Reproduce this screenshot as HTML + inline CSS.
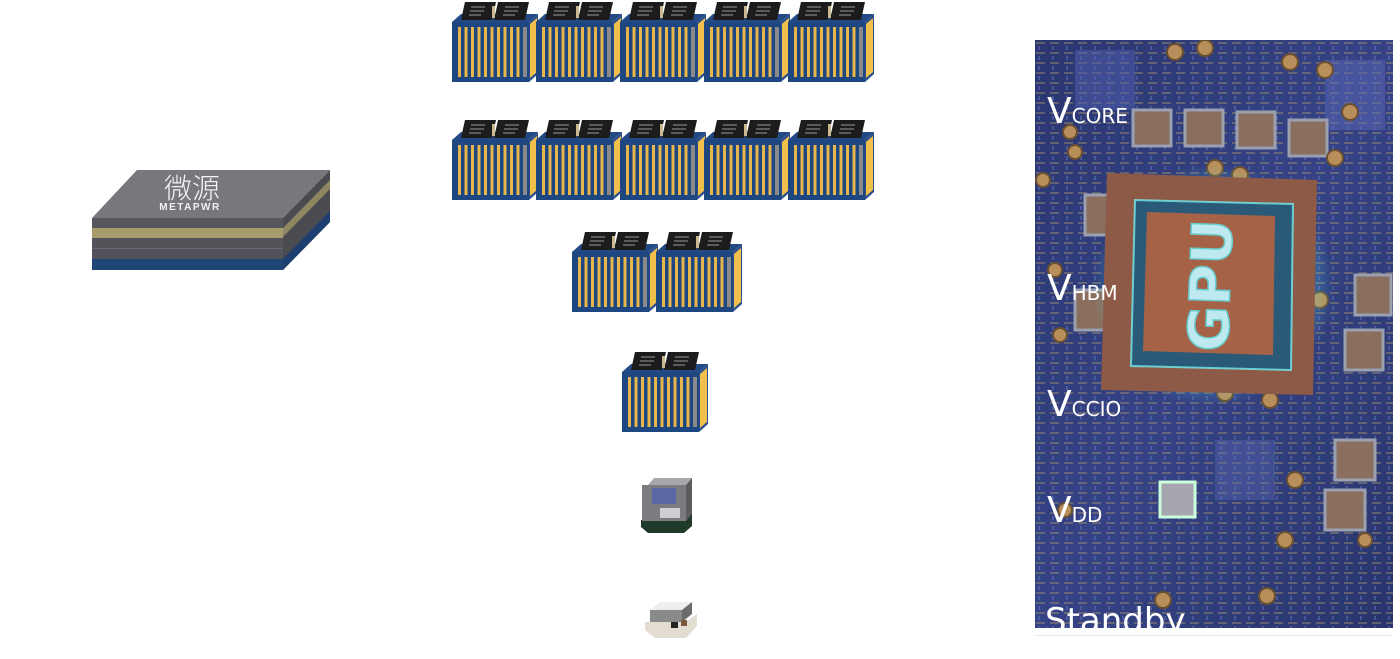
<!DOCTYPE html>
<html><head><meta charset="utf-8"><style>
html,body{margin:0;padding:0;background:#fff;}
body{width:1400px;height:659px;overflow:hidden;position:relative;}
svg{position:absolute;left:0;top:0;}
</style></head><body>
<svg width="1400" height="659" viewBox="0 0 1400 659" xmlns="http://www.w3.org/2000/svg">
<defs>
  <g id="mod">
    <polygon points="0,22 77,22 86,14 9,14" fill="#244a86"/>
    <polygon points="9,20 40,20 44,2 13,2" fill="#1c1c1e"/>
    <polygon points="42,20 73,20 77,2 46,2" fill="#1c1c1e"/>
    <g stroke="#9a9a9a" stroke-width="1">
      <line x1="19" y1="7" x2="33" y2="7"/><line x1="18" y1="11" x2="32" y2="11"/><line x1="17" y1="15" x2="29" y2="15"/>
      <line x1="53" y1="7" x2="67" y2="7"/><line x1="52" y1="11" x2="66" y2="11"/><line x1="51" y1="15" x2="63" y2="15"/>
    </g>
    <rect x="40" y="6" width="3" height="12" fill="#c8b890"/>
    <rect x="0" y="22" width="77" height="60" fill="#1e4680"/>
    <g fill="#e6b64a">
      <rect x="6" y="27" width="3" height="50"/><rect x="12.5" y="27" width="3" height="50"/>
      <rect x="19" y="27" width="3" height="50"/><rect x="25.5" y="27" width="3" height="50"/>
      <rect x="32" y="27" width="3" height="50"/><rect x="38.5" y="27" width="3" height="50"/>
      <rect x="45" y="27" width="3" height="50"/><rect x="51.5" y="27" width="3" height="50"/>
      <rect x="58" y="27" width="3" height="50"/><rect x="64.5" y="27" width="3" height="50"/>
    </g>
    <rect x="71" y="27" width="4" height="50" fill="#8a8a8a"/>
    <polygon points="77,22 86,14 86,74 77,82" fill="#2a4f8a"/>
    <polygon points="78,24 85,18 85,72 78,78" fill="#f0bf4c"/>
  </g>
</defs>

<polygon points="137,170 330,170 283,218 92,218" fill="#77787c"/>
<polygon points="283,218 330,170 330,222 283,270" fill="#4a4b50"/>
<polygon points="283,228 330,180 330,189 283,237" fill="#8f8560"/>
<polygon points="283,259 330,211 330,222 283,270" fill="#1d3f70"/>
<rect x="92" y="218" width="191" height="10" fill="#56575c"/>
<rect x="92" y="228" width="191" height="10" fill="#a89c6c"/>
<rect x="92" y="238" width="191" height="10" fill="#53545a"/>
<rect x="92" y="248" width="191" height="1" fill="#6a6b70"/>
<rect x="92" y="249" width="191" height="10" fill="#52535a"/>
<rect x="92" y="259" width="191" height="11" fill="#1f4677"/>
<text x="192" y="198" font-family="'Liberation Sans','Noto Sans CJK SC',sans-serif" font-size="28" fill="#f4f4f4" text-anchor="middle" font-weight="300">微源</text>
<text x="190" y="210" font-family="'Liberation Sans',sans-serif" font-size="10" font-weight="bold" fill="#f0f0f0" text-anchor="middle" letter-spacing="1.5">METAPWR</text>

<use href="#mod" x="452" y="0"/><use href="#mod" x="536" y="0"/><use href="#mod" x="620" y="0"/><use href="#mod" x="704" y="0"/><use href="#mod" x="788" y="0"/>
<use href="#mod" x="452" y="118"/><use href="#mod" x="536" y="118"/><use href="#mod" x="620" y="118"/><use href="#mod" x="704" y="118"/><use href="#mod" x="788" y="118"/>
<use href="#mod" x="572" y="230"/><use href="#mod" x="656" y="230"/>
<use href="#mod" x="622" y="350"/>

<!-- inductor -->
<polygon points="641,520 684,520 692,512 692,526 684,533 648,533 641,527" fill="#1f3a28"/>
<polygon points="648,485 686,485 692,478 654,478" fill="#a8a8aa"/>
<rect x="642" y="485" width="44" height="36" fill="#7c7c80"/>
<polygon points="686,485 692,478 692,514 686,521" fill="#5c5c60"/>
<rect x="652" y="488" width="24" height="16" fill="#5566aa" opacity=".85"/>
<rect x="660" y="508" width="20" height="10" fill="#cfcfd2"/>

<!-- small module -->
<polygon points="645,622 686,622 697,614 697,626 686,638 655,638 645,630" fill="#e2ddd0"/>
<polygon points="650,610 682,610 692,602 660,602" fill="#eeeeee"/>
<rect x="650" y="610" width="32" height="12" fill="#8a8a8a"/>
<polygon points="682,610 692,602 692,614 682,622" fill="#6c6c6c"/>
<rect x="671" y="622" width="7" height="6" fill="#222"/><rect x="681" y="620" width="6" height="6" fill="#7a5a3a"/>

<svg x="1035" y="40" width="358" height="588" viewBox="0 0 358 588">
  <defs>
    <linearGradient id="bg" x1="0" y1="0" x2="1" y2="1">
      <stop offset="0" stop-color="#2a3670"/><stop offset=".5" stop-color="#354386"/><stop offset="1" stop-color="#28356c"/>
    </linearGradient>
    <pattern id="tr" width="14" height="10" patternUnits="userSpaceOnUse">
      <rect x="1" y="2" width="9" height="2" fill="#9a8a70" opacity=".5"/>
      <rect x="3" y="6" width="2" height="4" fill="#6b7ac0" opacity=".45"/>
    </pattern>
    <radialGradient id="glow"><stop offset=".6" stop-color="#5ff" stop-opacity=".5"/><stop offset="1" stop-color="#5ff" stop-opacity="0"/></radialGradient>
  </defs>
  <rect width="358" height="588" fill="url(#bg)"/>
  <rect width="358" height="588" fill="url(#tr)"/>
  <rect x="40" y="10" width="60" height="60" fill="#5060b0" opacity=".5"/>
  <rect x="290" y="20" width="60" height="70" fill="#5a68b8" opacity=".5"/>
  <rect x="180" y="400" width="60" height="60" fill="#5a6ab5" opacity=".4"/>
  <g fill="#8a6e5e" stroke="#9aa0b0" stroke-width="3">
    <rect x="98" y="70" width="38" height="36"/><rect x="150" y="70" width="38" height="36"/>
    <rect x="202" y="72" width="38" height="36"/><rect x="254" y="80" width="38" height="36"/>
    <rect x="50" y="155" width="40" height="40"/><rect x="40" y="250" width="35" height="40"/>
    <rect x="320" y="235" width="36" height="40"/><rect x="310" y="290" width="38" height="40"/>
    <rect x="300" y="400" width="40" height="40"/><rect x="290" y="450" width="40" height="40"/>
  </g>
  <rect x="125" y="442" width="35" height="35" fill="#a6a6b0" stroke="#cfd" stroke-width="3"/>
  <g fill="#b88e5a" stroke="#6a5030" stroke-width="2">
    <circle cx="140" cy="12" r="8"/><circle cx="170" cy="8" r="8"/><circle cx="255" cy="22" r="8"/><circle cx="290" cy="30" r="8"/>
    <circle cx="35" cy="92" r="7"/><circle cx="40" cy="112" r="7"/><circle cx="180" cy="128" r="8"/><circle cx="205" cy="135" r="8"/>
    <circle cx="315" cy="72" r="8"/><circle cx="300" cy="118" r="8"/><circle cx="8" cy="140" r="7"/><circle cx="20" cy="230" r="7"/>
    <circle cx="285" cy="260" r="8"/><circle cx="95" cy="340" r="8"/><circle cx="190" cy="353" r="8"/><circle cx="235" cy="360" r="8"/>
    <circle cx="260" cy="440" r="8"/><circle cx="250" cy="500" r="8"/><circle cx="330" cy="500" r="7"/><circle cx="30" cy="470" r="7"/>
    <circle cx="128" cy="560" r="8"/><circle cx="232" cy="556" r="8"/><circle cx="25" cy="295" r="7"/>
  </g>
  <rect x="58" y="125" width="240" height="240" fill="url(#glow)"/>
  <polygon points="72,133 282,140 278,355 66,350" fill="#8e5a48"/>
  <polygon points="100,160 258,164 256,330 96,326" fill="#2a5a78"/>
  <polygon points="100,160 258,164 256,330 96,326" fill="none" stroke="#7ff" stroke-width="2" opacity=".7"/>
  <polygon points="112,172 240,176 238,315 108,311" fill="#a66246"/>
  <text x="0" y="0" font-family="'DejaVu Sans',sans-serif" font-weight="bold" font-size="56" fill="#bfe9f0" stroke="#6cc" stroke-width="1.5" text-anchor="middle" transform="translate(195,246) rotate(-88)">GPU</text>
  <g font-family="'DejaVu Sans',sans-serif" fill="#fff">
    <text x="12" y="83" font-size="36">V<tspan font-size="20">CORE</tspan></text>
    <text x="12" y="260" font-size="36">V<tspan font-size="20">HBM</tspan></text>
    <text x="12" y="376" font-size="36">V<tspan font-size="20">CCIO</tspan></text>
    <text x="12" y="482" font-size="36">V<tspan font-size="20">DD</tspan></text>
    <text x="10" y="592" font-size="34">Standby</text>
  </g>
</svg>
<rect x="1035" y="635" width="358" height="1" fill="#e8e8e8"/>
</svg>
</body></html>
